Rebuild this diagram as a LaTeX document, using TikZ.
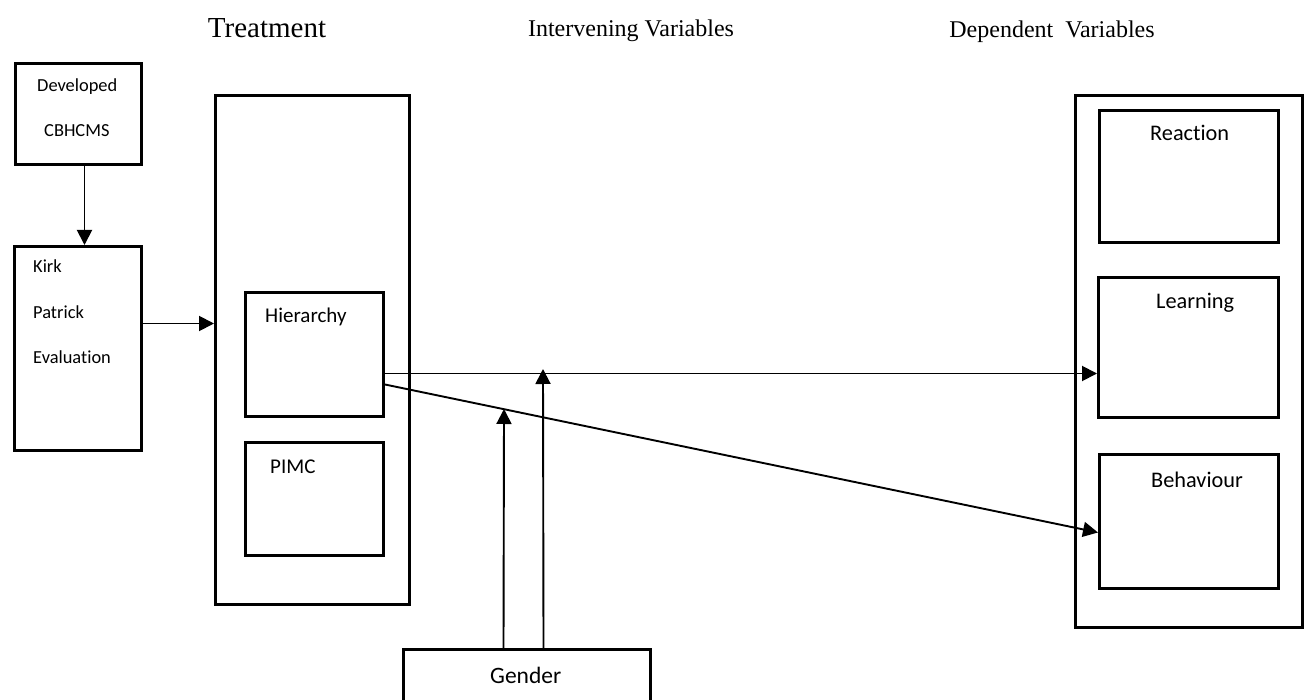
\documentclass[tikz,border=0pt]{standalone}
\usepackage{fontspec}
\setmainfont{Carlito}[Ligatures={NoCommon}]
\newfontfamily\tnr{Liberation Serif}
\usetikzlibrary{arrows.meta}
\tikzset{
  box/.style={draw, line width=3pt, inner sep=0pt, anchor=north west},
  arr/.style={line width=1.9pt, -{Triangle[length=15pt,width=15pt]}},
  small/.style={anchor=base west, inner sep=0pt, font=\fontsize{18.4}{20}\selectfont},
  mid/.style={anchor=base west, inner sep=0pt, font=\fontsize{21}{24}\selectfont},
  big/.style={anchor=base west, inner sep=0pt, font=\fontsize{22.3}{25}\selectfont},
  title/.style={anchor=base, inner sep=0pt}
}
\begin{document}
\begin{tikzpicture}[x=1pt,y=-1pt]
\clip (0,0) rectangle (1304,700);
\fill[white] (0,0) rectangle (1304,700);
% titles
\node[title, font=\tnr\fontsize{29}{32}\selectfont] (t1) at (267,38) {Treatment};
\node[title, font=\tnr\fontsize{24}{27}\selectfont] (t2) at (631,37) {Intervening Variables};
\node[title, font=\tnr\fontsize{24}{27}\selectfont] (t3) at (1052,38) {Dependent\ \ Variables};
% boxes
\node[box, minimum width=126, minimum height=101] (dev) at (14,62) {};
\node[box, minimum width=127, minimum height=204] (kirk) at (13,245) {};
\node[box, minimum width=194, minimum height=509] (treat) at (214,94) {};
\node[box, minimum width=138, minimum height=124] (hier) at (244,291) {};
\node[box, minimum width=138, minimum height=113] (pimc) at (244,441) {};
\node[box, minimum width=227, minimum height=532] (dep) at (1074,94) {};
\node[box, minimum width=179, minimum height=132] (react) at (1098,109) {};
\node[box, minimum width=180, minimum height=140] (learn) at (1097,276) {};
\node[box, minimum width=179, minimum height=134] (behav) at (1098,453) {};
\node[box, minimum width=247, minimum height=70] (gender) at (402,648) {};
% texts
\node[small] (devA) at (37,92) {Developed};
\node[small] (devB) at (44,137) {CBHCMS};
\node[small] (kA) at (33,273) {Kirk};
\node[small] (kB) at (33,319) {Patrick};
\node[small] (kC) at (33,364) {Evaluation};
\node[mid] (hT) at (265,323) {Hierarchy};
\node[mid] (pT) at (270,473) {PIMC};
\node[big] (rT) at (1150,141) {Reaction};
\node[big] (lT) at (1156,309) {Learning};
\node[big] (bT) at (1151,487) {Behaviour};
\node[anchor=base west, inner sep=0pt, font=\fontsize{23.5}{26}\selectfont] (gT) at (490,683) {Gender};
% connectors
\draw[arr] ([xshift=6pt]dev.south) -- ([xshift=6pt]dev.south |- kirk.north);
\draw[arr] ([yshift=25pt]kirk.east) -- ([yshift=25pt]kirk.east -| treat.west);
\draw[arr] ([yshift=-19pt]hier.east) -- ([yshift=-19pt]hier.east -| learn.west);
\draw[arr] ([yshift=-30pt]hier.east) -- ([yshift=-11pt]behav.west);
\coordinate (g1) at (504,409);
\coordinate (g2) at (543,369);
\draw[arr] ([xshift=-23.5pt]gender.north) -- (g1);
\draw[arr] ([xshift=16.5pt]gender.north) -- (g2);
\end{tikzpicture}
\end{document}
